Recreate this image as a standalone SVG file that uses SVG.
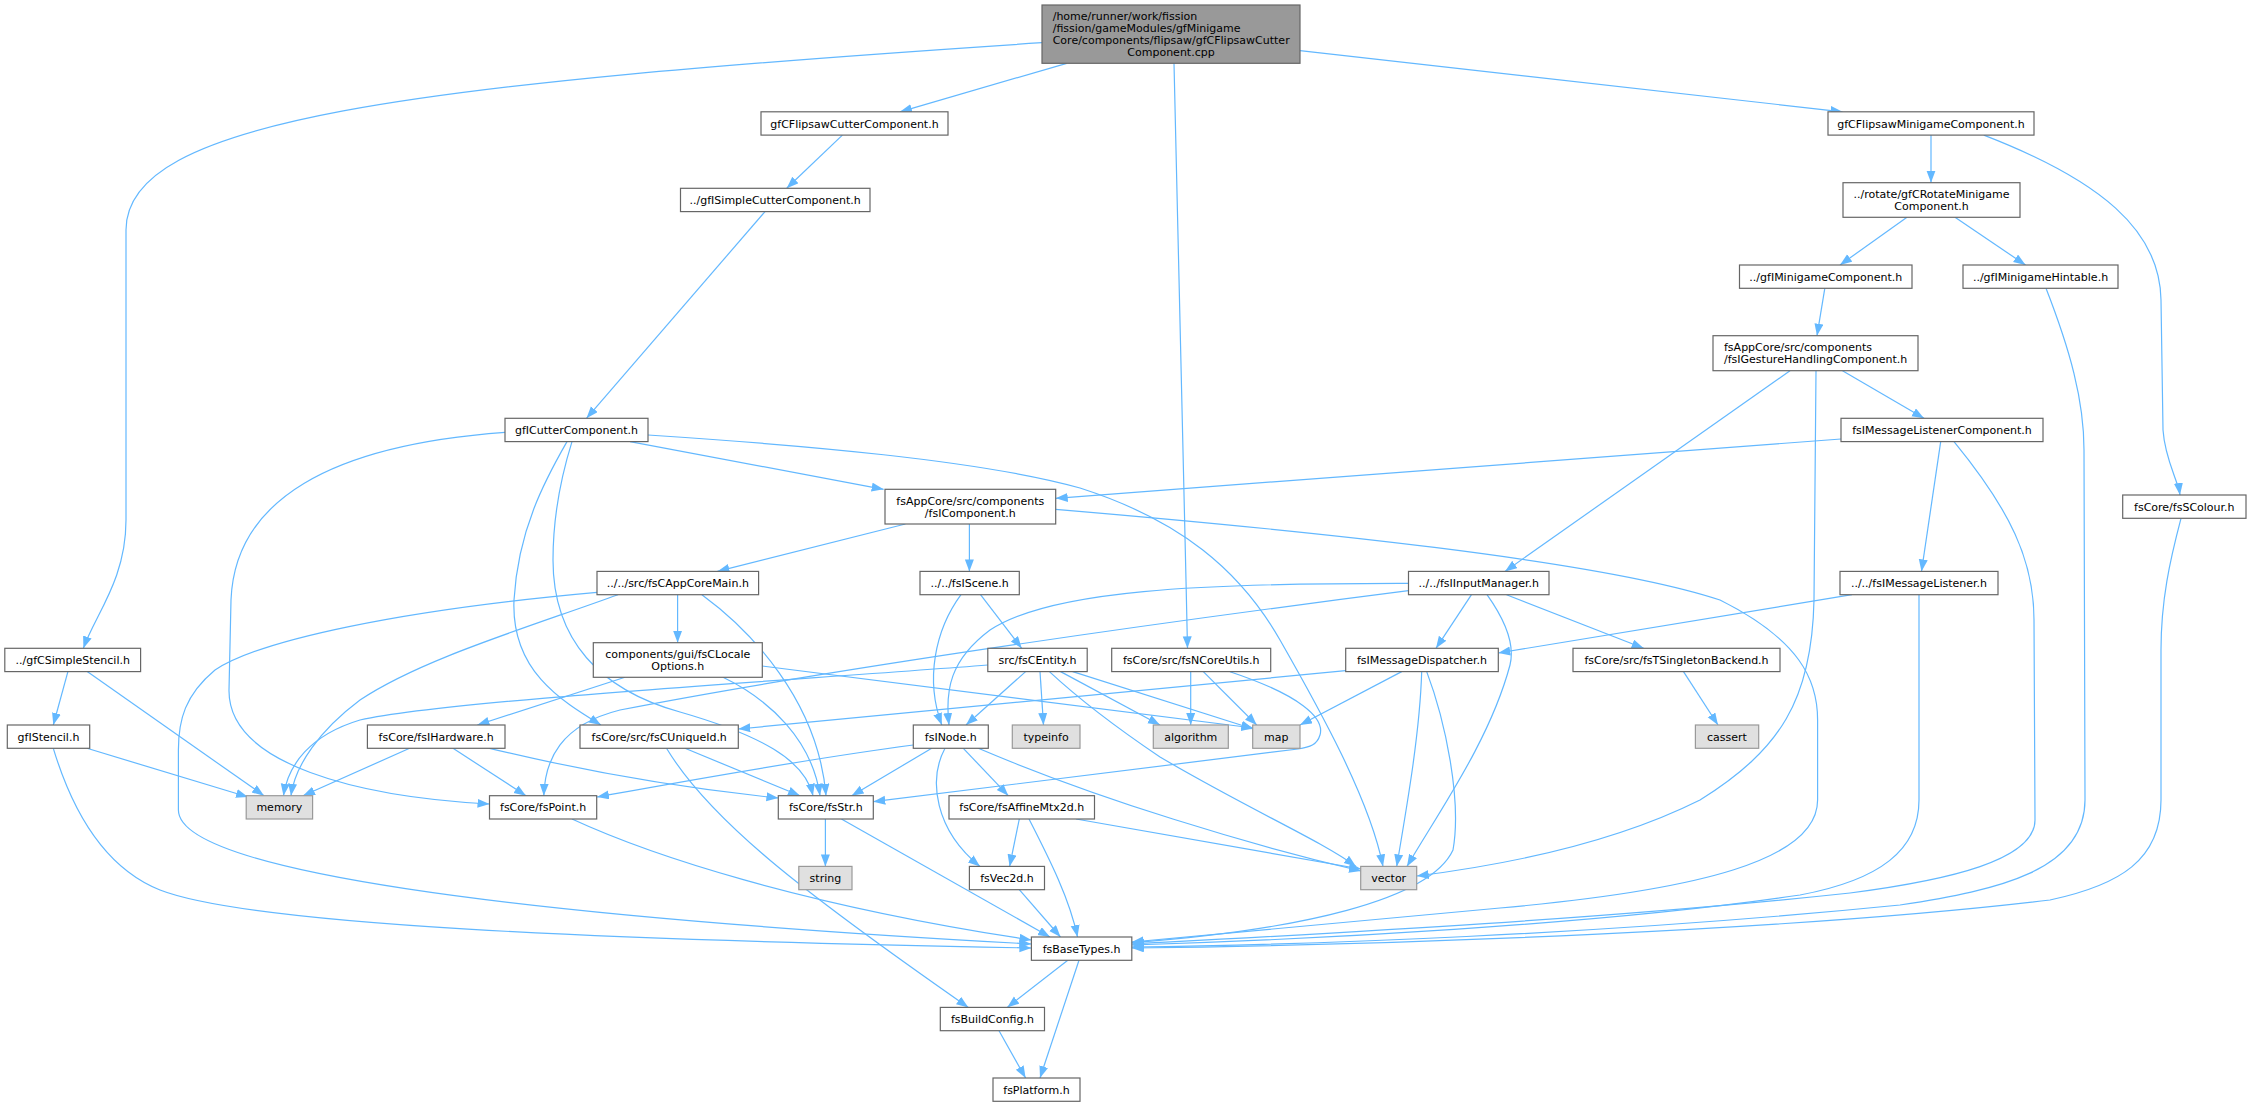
<svg xmlns="http://www.w3.org/2000/svg" width="2251" height="1107" viewBox="0 0 2251 1107">
<style>
text{font-family:"DejaVu Sans",sans-serif;font-size:11px;fill:#000}
.node rect{fill:#fff;stroke:#666;stroke-width:1.2}
.ext rect{fill:#e0e0e0;stroke:#999;stroke-width:1.2}
.root rect{fill:#999;stroke:#666;stroke-width:1.2}
.c{text-anchor:middle}
#edges path{fill:none;stroke:#63b8ff;stroke-width:1.2;marker-end:url(#a)}
</style>
<defs>
<marker id="a" markerUnits="userSpaceOnUse" markerWidth="13" markerHeight="10" refX="12" refY="4.5" orient="auto"><path d="M0,0 L12,4.5 L0,9 z" fill="#63b8ff"/></marker>
</defs>
<rect width="2251" height="1107" fill="#fff"/>
<g id="edges">
<path d="M1042,42.7 C400,85 126,120 126,230 L126,520 C126,580 95,615 83.4,648.3"/>
<path d="M1066.7,63.3 L900,111.8"/>
<path d="M1174,63.3 C1180,250 1183,450 1187.5,648.3"/>
<path d="M1300,50.7 L1842.5,111.8"/>
<path d="M842.4,135.1 L786.7,188.3"/>
<path d="M765,211.6 L586.5,418.3"/>
<path d="M630,441.6 L883.6,489.3"/>
<path d="M505,432.3 C330,445 235,500 231,600 L229,690 C228,765 360,797 489.5,804"/>
<path d="M567,441.6 C545,480 518,530 514,600 C511,670 560,700 601,725"/>
<path d="M572,441.6 C560,480 553,520 553,560 C553,640 600,690 680,712 C760,735 805,760 813,795.7"/>
<path d="M648,435 C800,445 980,460 1080,488 C1180,520 1240,570 1280,640 C1320,710 1370,800 1383,866.4"/>
<path d="M905.4,524 L717.4,571.4"/>
<path d="M969.4,524 L969.4,571.4"/>
<path d="M1055.7,509.3 C1300,530 1600,560 1720,600 C1800,640 1817.6,680 1817.6,720 L1817.6,800 C1817.6,860 1700,890 1500,908 C1350,922 1200,935 1131.8,942"/>
<path d="M677.6,594.7 L677.6,642.7"/>
<path d="M618,594.7 C520,630 420,660 360,700 C320,730 295,765 291,795.7"/>
<path d="M597,592.3 C400,610 260,640 215,670 C185,695 178.4,720 178.4,750 L178.4,810 C178.4,870 500,915 1031.4,944"/>
<path d="M701.9,594.7 C750,630 818,700 826,795.7"/>
<path d="M723,677.3 C770,700 812,740 820,795.7"/>
<path d="M625,677.3 L477.4,725"/>
<path d="M762,666 L1253.4,728"/>
<path d="M409.6,748.3 L303,795.7"/>
<path d="M453,748.3 L526,795.7"/>
<path d="M489.5,748.3 C600,775 700,790 778.4,798"/>
<path d="M961,594.7 C935,630 925,680 941.8,725"/>
<path d="M980.5,594.7 L1021.7,648.3"/>
<path d="M1025.6,671.6 L966,725"/>
<path d="M1040,671.6 L1043.5,725"/>
<path d="M1049.4,671.6 C1080,700 1120,730 1160,757 C1250,810 1320,840 1356,866.4"/>
<path d="M1060.6,671.6 L1160,725"/>
<path d="M1072.7,671.6 L1253.4,729"/>
<path d="M987.8,665 C800,680 450,700 360,720 C310,735 288,765 283.5,795.7"/>
<path d="M913.3,745 C800,760 680,782 597,797"/>
<path d="M931.7,748.3 L851.7,795.7"/>
<path d="M963.3,748.3 L1008.3,795.7"/>
<path d="M945,748.3 C928,780 935,830 980,866.4"/>
<path d="M978.3,748.3 C1100,800 1250,845 1361,871"/>
<path d="M1190.7,671.6 L1190.7,725"/>
<path d="M1203.3,671.6 L1256.7,725"/>
<path d="M1230,671.7 C1300,695 1325,718 1320,735 C1317,745 1310,747 1298,749 L873.3,801.7"/>
<path d="M685,748.3 L800,795.7"/>
<path d="M666.5,748.3 C710,820 800,890 968.4,1007.4"/>
<path d="M825.4,819 L825.4,866.4"/>
<path d="M841.4,819 L1050,937"/>
<path d="M1019.3,819 L1009.6,866.4"/>
<path d="M1029,819 C1050,860 1070,900 1077.5,937"/>
<path d="M1076,819 L1361,869"/>
<path d="M1019.3,889.7 L1060.5,937"/>
<path d="M572,819 C650,855 800,905 1031.4,940"/>
<path d="M1067.8,960.3 L1007.2,1007.4"/>
<path d="M1079,960.3 L1040,1078"/>
<path d="M999,1030.7 L1025.6,1078"/>
<path d="M67.9,671.6 L53.3,725"/>
<path d="M87.2,671.6 L264,795.7"/>
<path d="M87,748.3 L248,797"/>
<path d="M53.3,748.3 C75,820 110,870 160,890 C250,925 600,940 1031.4,948"/>
<path d="M1931,135.1 L1931,182.7"/>
<path d="M1983.8,135.1 C2100,180 2160,230 2161,300 L2163,430 C2165,460 2178,480 2180,495"/>
<path d="M1907,217.3 L1840,265"/>
<path d="M1955,217.3 L2025.5,265"/>
<path d="M1824.8,288.3 L1817,335.7"/>
<path d="M2046,288.3 C2070,350 2084,400 2084,450 L2085,800 C2085,870 2000,890 1900,905 C1600,935 1300,945 1131.8,947"/>
<path d="M1790,370.7 L1505,571.4"/>
<path d="M1816,370.7 L1814,600 C1812,700 1780,750 1700,800 C1600,850 1480,868 1416.8,876"/>
<path d="M1842.5,370.7 L1924,418.3"/>
<path d="M1841,439 L1055.7,498.3"/>
<path d="M1940.7,441.6 L1921.5,571.4"/>
<path d="M1954,441.6 C2010,510 2034,560 2034,620 L2035,820 C2035,860 1950,880 1850,893 C1600,920 1300,935 1131.8,944"/>
<path d="M1852,594.7 L1498.3,653"/>
<path d="M1919,594.7 L1919,800 C1919,850 1880,880 1800,895 C1600,925 1300,940 1131.8,945"/>
<path d="M1408.5,583.3 C1200,583 1050,590 990,630 C950,660 945,690 949,725"/>
<path d="M1408.5,590.7 C1100,630 800,675 620,710 C560,725 545,760 543.8,795.7"/>
<path d="M1471.5,594.7 L1436,648.3"/>
<path d="M1506.5,594.7 L1643.7,648.3"/>
<path d="M1487,594.7 C1505,620 1515,645 1510,665 C1490,740 1440,810 1407,866.4"/>
<path d="M1683.5,671.6 L1718,725"/>
<path d="M1345.7,670.7 L738.3,729"/>
<path d="M1401.7,671.6 L1300,725"/>
<path d="M1421.7,671.6 C1420,730 1408,800 1396.7,866.4"/>
<path d="M1426.7,671.6 C1445,720 1462,800 1453,850 C1430,900 1300,930 1131.8,942.7"/>
<path d="M2181,518.3 C2170,560 2161,600 2161,650 L2161,800 C2161,860 2120,885 2050,900 C1800,930 1400,945 1131.8,948"/>
</g>
<g id="n_top" class="root"><rect x="1042" y="5" width="258" height="58.3"/><text x="1052.7" y="20">/home/runner/work/fission</text><text x="1052.7" y="32">/fission/gameModules/gfMinigame</text><text x="1052.7" y="44">Core/components/flipsaw/gfCFlipsawCutter</text><text class="c" x="1171" y="56">Component.cpp</text></g>
<g id="n_fcut" class="node"><rect x="761" y="111.8" width="187" height="23.3"/><text class="c" x="854.5" y="127.5">gfCFlipsawCutterComponent.h</text></g>
<g id="n_fmini" class="node"><rect x="1828" y="111.8" width="206" height="23.3"/><text class="c" x="1931" y="127.5">gfCFlipsawMinigameComponent.h</text></g>
<g id="n_simple" class="node"><rect x="680.5" y="188.3" width="189.5" height="23.3"/><text class="c" x="775.2" y="204">../gfISimpleCutterComponent.h</text></g>
<g id="n_rot" class="node"><rect x="1843" y="182.7" width="177" height="34.6"/><text class="c" x="1931.5" y="198">../rotate/gfCRotateMinigame</text><text class="c" x="1931.5" y="210">Component.h</text></g>
<g id="n_gmc" class="node"><rect x="1739.5" y="265" width="172.5" height="23.3"/><text class="c" x="1825.8" y="280.7">../gfIMinigameComponent.h</text></g>
<g id="n_gmh" class="node"><rect x="1963" y="265" width="155" height="23.3"/><text class="c" x="2040.5" y="280.7">../gfIMinigameHintable.h</text></g>
<g id="n_gest" class="node"><rect x="1713" y="335.7" width="205" height="35"/><text x="1724" y="351">fsAppCore/src/components</text><text x="1724" y="363">/fsIGestureHandlingComponent.h</text></g>
<g id="n_cut" class="node"><rect x="505" y="418.3" width="143" height="23.3"/><text class="c" x="576.5" y="434">gfICutterComponent.h</text></g>
<g id="n_mlc" class="node"><rect x="1841" y="418.3" width="202" height="23.3"/><text class="c" x="1942" y="434">fsIMessageListenerComponent.h</text></g>
<g id="n_comp" class="node"><rect x="885" y="489.3" width="170.7" height="34.7"/><text class="c" x="970.3" y="504.7">fsAppCore/src/components</text><text class="c" x="970.3" y="516.7">/fsIComponent.h</text></g>
<g id="n_scol" class="node"><rect x="2122.7" y="495" width="123.3" height="23.3"/><text class="c" x="2184.3" y="510.7">fsCore/fsSColour.h</text></g>
<g id="n_main" class="node"><rect x="597" y="571.4" width="161.6" height="23.3"/><text class="c" x="677.8" y="587">../../src/fsCAppCoreMain.h</text></g>
<g id="n_scene" class="node"><rect x="920" y="571.4" width="99.3" height="23.3"/><text class="c" x="969.6" y="587">../../fsIScene.h</text></g>
<g id="n_inp" class="node"><rect x="1408.5" y="571.4" width="140.5" height="23.3"/><text class="c" x="1478.8" y="587">../../fsIInputManager.h</text></g>
<g id="n_ml" class="node"><rect x="1840" y="571.4" width="158" height="23.3"/><text class="c" x="1919" y="587">../../fsIMessageListener.h</text></g>
<g id="n_stencil" class="node"><rect x="4.8" y="648.3" width="135.8" height="23.3"/><text class="c" x="72.7" y="664">../gfCSimpleStencil.h</text></g>
<g id="n_loc" class="node"><rect x="593.3" y="642.7" width="169" height="34.6"/><text class="c" x="677.8" y="658">components/gui/fsCLocale</text><text class="c" x="677.8" y="670">Options.h</text></g>
<g id="n_ent" class="node"><rect x="987.8" y="648.3" width="99.4" height="23.3"/><text class="c" x="1037.5" y="664">src/fsCEntity.h</text></g>
<g id="n_ncu" class="node"><rect x="1111.7" y="648.3" width="159" height="23.3"/><text class="c" x="1191.2" y="664">fsCore/src/fsNCoreUtils.h</text></g>
<g id="n_md" class="node"><rect x="1345.7" y="648.3" width="152.6" height="23.3"/><text class="c" x="1422" y="664">fsIMessageDispatcher.h</text></g>
<g id="n_tsb" class="node"><rect x="1573" y="648.3" width="207" height="23.3"/><text class="c" x="1676.5" y="664">fsCore/src/fsTSingletonBackend.h</text></g>
<g id="n_istencil" class="node"><rect x="7.3" y="725" width="82.4" height="23.3"/><text class="c" x="48.5" y="740.7">gfIStencil.h</text></g>
<g id="n_hw" class="node"><rect x="367.4" y="725" width="137.6" height="23.3"/><text class="c" x="436.2" y="740.7">fsCore/fsIHardware.h</text></g>
<g id="n_uid" class="node"><rect x="580" y="725" width="158.3" height="23.3"/><text class="c" x="659.2" y="740.7">fsCore/src/fsCUniqueId.h</text></g>
<g id="n_node" class="node"><rect x="913.3" y="725" width="75" height="23.3"/><text class="c" x="950.8" y="740.7">fsINode.h</text></g>
<g id="n_typeinfo" class="ext"><rect x="1012.3" y="725" width="67.7" height="23.3"/><text class="c" x="1046.1" y="740.7">typeinfo</text></g>
<g id="n_alg" class="ext"><rect x="1153.3" y="725" width="75" height="23.3"/><text class="c" x="1190.8" y="740.7">algorithm</text></g>
<g id="n_map" class="ext"><rect x="1252.7" y="725" width="47.3" height="23.3"/><text class="c" x="1276.3" y="740.7">map</text></g>
<g id="n_cassert" class="ext"><rect x="1695.4" y="725" width="63.3" height="23.3"/><text class="c" x="1727" y="740.7">cassert</text></g>
<g id="n_mem" class="ext"><rect x="246.2" y="795.7" width="66.4" height="23.3"/><text class="c" x="279.4" y="811.3">memory</text></g>
<g id="n_point" class="node"><rect x="489.5" y="795.7" width="107.2" height="23.3"/><text class="c" x="543.1" y="811.3">fsCore/fsPoint.h</text></g>
<g id="n_str" class="node"><rect x="778.3" y="795.7" width="95" height="23.3"/><text class="c" x="825.8" y="811.3">fsCore/fsStr.h</text></g>
<g id="n_aff" class="node"><rect x="949" y="795.7" width="145.5" height="23.3"/><text class="c" x="1021.8" y="811.3">fsCore/fsAffineMtx2d.h</text></g>
<g id="n_string" class="ext"><rect x="798.8" y="866.4" width="53.2" height="23.3"/><text class="c" x="825.4" y="882">string</text></g>
<g id="n_vec2" class="node"><rect x="969.4" y="866.4" width="75.1" height="23.3"/><text class="c" x="1007" y="882">fsVec2d.h</text></g>
<g id="n_vector" class="ext"><rect x="1360.7" y="866.4" width="56" height="23.3"/><text class="c" x="1388.7" y="882">vector</text></g>
<g id="n_base" class="node"><rect x="1031.4" y="937" width="100.4" height="23.3"/><text class="c" x="1081.6" y="952.7">fsBaseTypes.h</text></g>
<g id="n_bc" class="node"><rect x="940.3" y="1007.4" width="104.2" height="23.3"/><text class="c" x="992.4" y="1023">fsBuildConfig.h</text></g>
<g id="n_plat" class="node"><rect x="993" y="1078" width="87" height="23.3"/><text class="c" x="1036.5" y="1093.7">fsPlatform.h</text></g>
</svg>
